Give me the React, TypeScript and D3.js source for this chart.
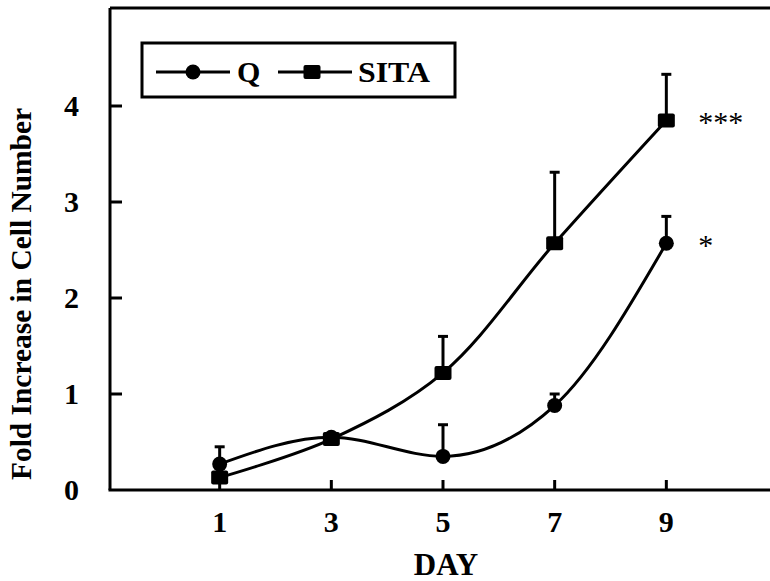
import React from "react";
import * as d3 from "d3";

const days = [1, 3, 5, 7, 9];
const qValues = [0.27, 0.55, 0.35, 0.88, 2.57];
const qErrors = [0.18, 0.0, 0.33, 0.12, 0.28];
const sitaValues = [0.13, 0.53, 1.22, 2.57, 3.85];
const sitaErrors = [0.0, 0.0, 0.38, 0.74, 0.48];
const xTicks = [1, 3, 5, 7, 9];
const yTicks = [0, 1, 2, 3, 4];
const seriesNames = ["Q", "SITA"];
const significance = ["*", "***"];

const W = 770;
const H = 581;
const FONT = "'Liberation Serif', 'Times New Roman', serif";

export default function App() {
  const x = d3.scaleLinear().domain([-1, 11]).range([108, 778]);
  const y = d3.scaleLinear().domain([0, 5]).range([490, 10]);
  const qLine = d3
    .line<[number, number]>()
    .x((d) => x(d[0]))
    .y((d) => y(d[1]))
    .curve(d3.curveMonotoneX);
  const sLine = d3
    .line<[number, number]>()
    .x((d) => x(d[0]))
    .y((d) => y(d[1]))
    .curve(d3.curveCatmullRom.alpha(0.5));

  const qPts: [number, number][] = days.map((d, i) => [d, qValues[i]]);
  const sPts: [number, number][] = days.map((d, i) => [d, sitaValues[i]]);

  const left = 110;
  const bottom = 490;
  const top = 8;

  const errBar = (d: number, v: number, e: number, key: string) =>
    e > 0 ? (
      <g key={key}>
        <line x1={x(d)} x2={x(d)} y1={y(v)} y2={y(v + e)} stroke="#000" strokeWidth={3} />
        <line x1={x(d) - 5} x2={x(d) + 5} y1={y(v + e)} y2={y(v + e)} stroke="#000" strokeWidth={3} />
      </g>
    ) : null;

  return (
    <svg
      width={W}
      height={H}
      style={{ position: "absolute", left: 0, top: 0, background: "#fff" }}
      fontFamily={FONT}
    >
      <rect x={0} y={0} width={W} height={H} fill="#fff" />
      {/* frame */}
      <line x1={left} x2={W} y1={top} y2={top} stroke="#000" strokeWidth={3} />
      <line x1={left} x2={left} y1={top} y2={bottom} stroke="#000" strokeWidth={3} />
      <line x1={left - 1.5} x2={W} y1={bottom} y2={bottom} stroke="#000" strokeWidth={3} />

      {/* y ticks */}
      {yTicks.map((t) => (
        <g key={"y" + t}>
          {t > 0 && (
            <line x1={left} x2={left + 12} y1={y(t)} y2={y(t)} stroke="#000" strokeWidth={3} />
          )}
          <text x={79} y={y(t) + 10} textAnchor="end" fontSize={30} fontWeight="bold">
            {t}
          </text>
        </g>
      ))}

      {/* x ticks */}
      {xTicks.map((t) => (
        <g key={"x" + t}>
          <line x1={x(t)} x2={x(t)} y1={bottom} y2={bottom - 10} stroke="#000" strokeWidth={3} />
          <text x={x(t)} y={532} textAnchor="middle" fontSize={30} fontWeight="bold">
            {t}
          </text>
        </g>
      ))}

      {/* axis titles */}
      <text x={x(5) + 3} y={575} textAnchor="middle" fontSize={31} fontWeight="bold">
        DAY
      </text>
      <text
        transform={`translate(31, ${(108 + 480) / 2}) rotate(-90)`}
        textAnchor="middle"
        fontSize={30}
        fontWeight="bold"
        textLength={372}
        lengthAdjust="spacingAndGlyphs"
      >
        Fold Increase in Cell Number
      </text>

      {/* error bars */}
      {days.map((d, i) => errBar(d, qValues[i], qErrors[i], "qe" + i))}
      {days.map((d, i) => errBar(d, sitaValues[i], sitaErrors[i], "se" + i))}

      {/* lines */}
      <path d={qLine(qPts) || ""} fill="none" stroke="#000" strokeWidth={3} />
      <path d={sLine(sPts) || ""} fill="none" stroke="#000" strokeWidth={3} />

      {/* markers */}
      {qPts.map((p, i) => (
        <circle key={"qc" + i} cx={x(p[0])} cy={y(p[1])} r={7.5} fill="#000" />
      ))}
      {sPts.map((p, i) => (
        <rect
          key={"sr" + i}
          x={x(p[0]) - 8.5}
          y={y(p[1]) - 7}
          width={17}
          height={14}
          rx={2}
          fill="#000"
        />
      ))}

      {/* significance */}
      <text x={x(9) + 32} y={y(qValues[4]) + 12} fontSize={30} fontWeight="normal">
        {significance[0]}
      </text>
      <text x={x(9) + 32} y={y(sitaValues[4]) + 12} fontSize={30} fontWeight="normal">
        {significance[1]}
      </text>

      {/* legend */}
      <rect x={142} y={43} width={313} height={54} fill="#fff" stroke="#000" strokeWidth={3} />
      <line x1={156} x2={230} y1={72} y2={72} stroke="#000" strokeWidth={3} />
      <circle cx={193} cy={72} r={7.5} fill="#000" />
      <text x={237} y={82} fontSize={30} fontWeight="bold">
        {seriesNames[0]}
      </text>
      <line x1={278} x2={352} y1={72} y2={72} stroke="#000" strokeWidth={3} />
      <rect x={303.5} y={65} width={17} height={14} rx={2} fill="#000" />
      <text x={358} y={82} fontSize={30} fontWeight="bold" textLength={72} lengthAdjust="spacingAndGlyphs">
        {seriesNames[1]}
      </text>
    </svg>
  );
}
